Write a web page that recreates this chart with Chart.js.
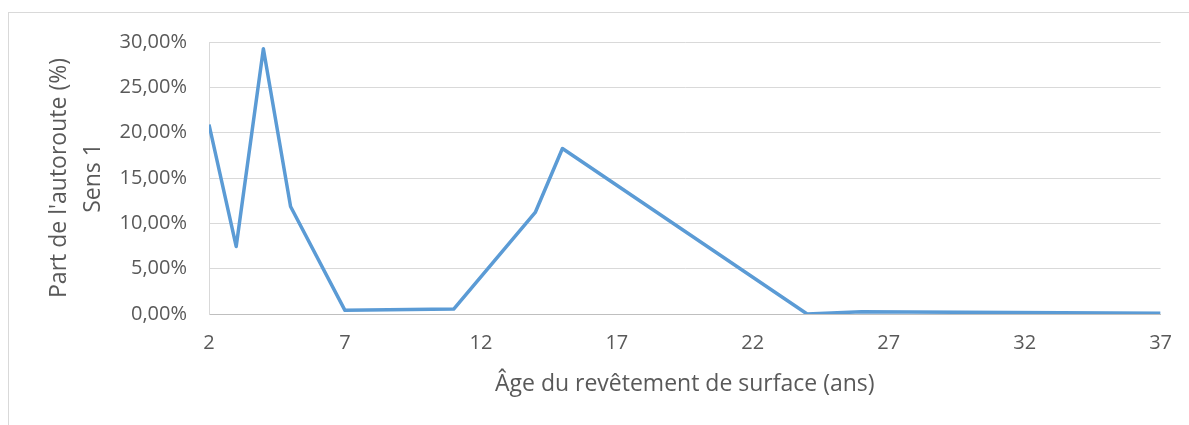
<!DOCTYPE html>
<html>
<head>
<meta charset="utf-8">
<script src="https://cdn.jsdelivr.net/npm/chart.js@4"></script>
<style>
  html, body { margin: 0; padding: 0; background: #fff; }
  #wrap { position: relative; width: 1189px; height: 425px; overflow: hidden; }
  #frame { position: absolute; left: 8px; top: 12px; width: 1300px; height: 500px; border: 1px solid #d9d9d9; }
  #chart { position: absolute; left: 0; top: 0; }
</style>
</head>
<body>
<div id="wrap">
  <div id="frame"></div>
  <canvas id="chart" width="1189" height="425"></canvas>
</div>
<script>
// âge du revêtement (ans) et part de l'autoroute, sens 1 (%)
const ages = [2, 3, 4, 5, 7, 11, 14, 15, 24, 26, 37];
const parts = [20.9, 7.45, 29.25, 11.85, 0.4, 0.55, 11.2, 18.25, 0.0, 0.25, 0.07];
const xTicks = [2, 7, 12, 17, 22, 27, 32, 37];
const yTicks = [0, 5, 10, 15, 20, 25, 30];

const textColor = '#595959';
const fontFamily = "'Open Sans', 'Noto Sans', sans-serif";

const ctx = document.getElementById('chart').getContext('2d');
const chart = new Chart(ctx, {
  type: 'line',
  data: {
    datasets: [{
      data: ages.map((a, i) => ({ x: a, y: parts[i] })),
      borderColor: '#5b9bd5',
      borderWidth: 3.5,
      borderJoinStyle: 'round',
      pointRadius: 0,
      tension: 0,
      fill: false
    }]
  },
  options: {
    responsive: false,
    animation: false,
    layout: { padding: { left: 40, right: 27, top: 42, bottom: 0 } },
    plugins: { legend: { display: false }, tooltip: { enabled: false } },
    scales: {
      x: {
        type: 'linear',
        min: 2,
        max: 37,
        afterBuildTicks: (scale) => { scale.ticks = xTicks.map(v => ({ value: v })); },
        afterFit: (scale) => { scale.height = 111; },
        grid: { display: false, drawTicks: false },
        border: { display: true, color: '#bfbfbf', width: 1 },
        ticks: { color: textColor, font: { family: fontFamily, size: 20 }, padding: 17, maxRotation: 0 },
        title: {
          display: true,
          text: 'Âge du revêtement de surface (ans)',
          color: textColor,
          font: { family: fontFamily, size: 23 },
          padding: { top: 0, bottom: 27 }
        }
      },
      y: {
        min: 0,
        max: 30,
        afterBuildTicks: (scale) => { scale.ticks = yTicks.map(v => ({ value: v })); },
        afterFit: (scale) => { scale.width = 169; },
        grid: { color: '#d9d9d9', lineWidth: 1, drawTicks: false },
        border: { display: true, color: '#d9d9d9', width: 1 },
        ticks: {
          color: textColor,
          font: { family: fontFamily, size: 20 },
          padding: 22,
          callback: (v) => v.toFixed(2).replace('.', ',') + '%'
        },
        title: {
          display: true,
          text: ["Part de l'autoroute (%)", 'Sens 1'],
          color: textColor,
          font: { family: fontFamily, size: 23, lineHeight: 1.5 },
          padding: { top: 2, bottom: 0 }
        }
      }
    }
  }
});
</script>
</body>
</html>
